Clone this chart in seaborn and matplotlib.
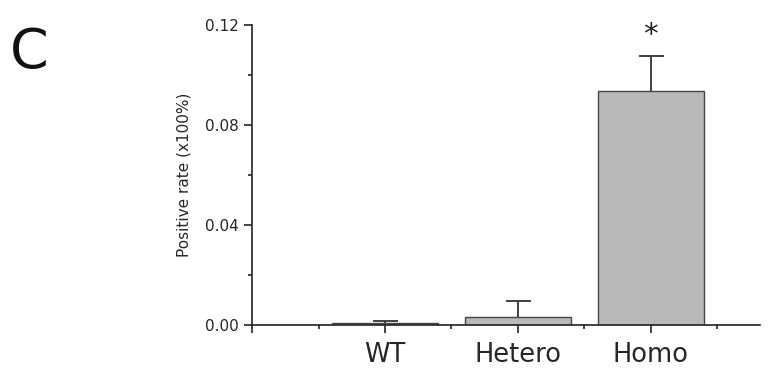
import matplotlib
matplotlib.use("Agg")
import matplotlib.pyplot as plt
import seaborn as sns
import numpy as np
import pandas as pd
from matplotlib.ticker import FixedLocator, NullFormatter

categories = ["WT", "Hetero", "Homo"]
values = [0.0007, 0.0033, 0.0938]
errors = [0.0010, 0.0063, 0.0138]
yticks = [0.00, 0.04, 0.08, 0.12]
ytick_labels = ["0.00", "0.04", "0.08", "0.12"]

sns.set_style("white")
plt.rcParams['font.family'] = ['DejaVu Sans']

fig = plt.figure(figsize=(7.81, 3.75), dpi=100)
ax = fig.add_axes([0.3227, 0.1333, 0.973 - 0.3227, 0.80])

df = pd.DataFrame({"group": categories, "rate": values})
sns.barplot(data=df, x="group", y="rate", ax=ax, color="#b7b9bb",
            edgecolor="#444444", linewidth=1.0, width=0.8, saturation=1)

xs = np.arange(len(categories))
eb = ax.errorbar(xs, values, yerr=[np.zeros(len(errors)), errors], fmt="none",
                 ecolor="#333333", elinewidth=1.3, capsize=9, capthick=1.3)
# hide lower caps (only upper error shown)
caps = eb[1]
if len(caps) >= 2:
    caps[0].set_visible(False)

ax.text(2, values[2] + errors[2] + 0.0085, "*", ha="center", va="center",
        fontsize=21, color="#222222")

ax.set_xlim(-1, 2.82)
ax.set_ylim(0, 0.12)
ax.set_yticks(yticks)
ax.set_yticklabels(ytick_labels, fontsize=11)
ax.yaxis.set_minor_locator(FixedLocator([0.02, 0.06, 0.10]))
ax.set_xticks([-1, 0, 1, 2])
ax.set_xticklabels(["", "WT", "Hetero", "Homo"], fontsize=18.5)
ax.xaxis.set_minor_locator(FixedLocator([-0.5, 0.5, 1.5, 2.5]))
ax.xaxis.set_minor_formatter(NullFormatter())
ax.yaxis.set_minor_formatter(NullFormatter())

ax.tick_params(axis="both", which="major", direction="out", length=6, width=1.2,
               color="#222222", bottom=True, left=True)
ax.tick_params(axis="both", which="minor", direction="out", length=3, width=1.2,
               color="#222222", bottom=True, left=True)
ax.tick_params(axis="x", which="major", pad=6)

ax.set_xlabel("")
ax.set_ylabel("Positive rate (x100%)", fontsize=11, labelpad=10)

sns.despine(ax=ax, top=True, right=True)
for s in ["left", "bottom"]:
    ax.spines[s].set_color("#222222")
    ax.spines[s].set_linewidth(1.2)

fig.text(0.013, 0.93, "C", fontsize=40, va="top", ha="left", color="#111111")

fig.savefig("out.png", dpi=100, facecolor="white")
